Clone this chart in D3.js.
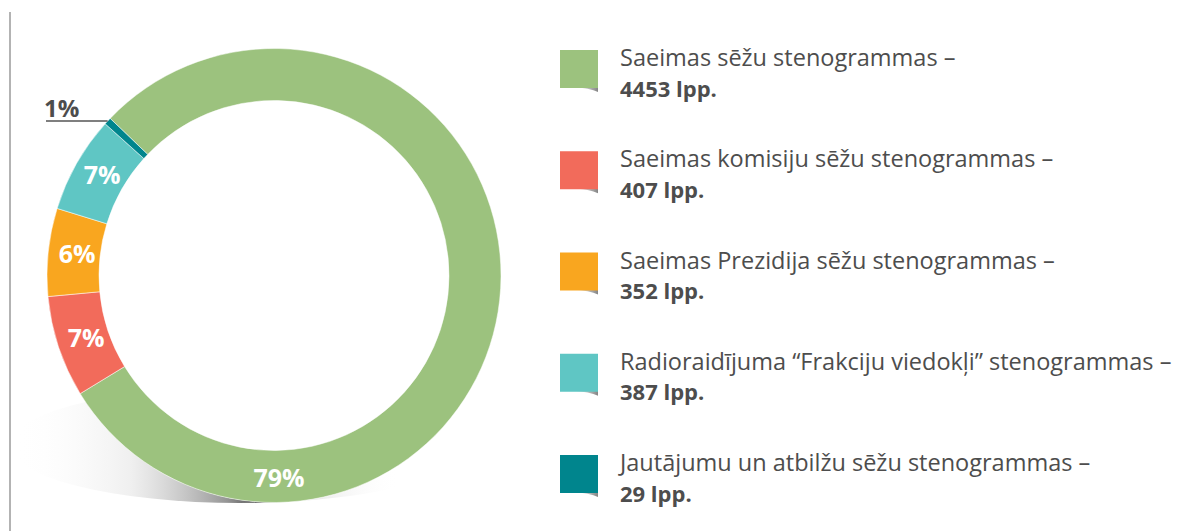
<!DOCTYPE html>
<html>
<head>
<meta charset="utf-8">
<script src="https://cdn.jsdelivr.net/npm/d3@7"></script>
<style>
  body { margin: 0; background: #fff; }
  svg { display: block; font-family: "Open Sans", sans-serif; }
</style>
</head>
<body>
<script>
// data
var categories = [
	"Saeimas sēžu stenogrammas –",
	"Saeimas komisiju sēžu stenogrammas –",
	"Saeimas Prezidija sēžu stenogrammas –",
	"Radioraidījuma “Frakciju viedokļi” stenogrammas –",
	"Jautājumu un atbilžu sēžu stenogrammas –"
];
var pages = [4453, 407, 352, 387, 29];
var pageLabels = ["4453 lpp.", "407 lpp.", "352 lpp.", "387 lpp.", "29 lpp."];
var colors = ["#9cc27e", "#f26b5b", "#f9a61f", "#5fc6c4", "#00858d"];

var w = 1203, h = 531;
var cx = 274, cy = 275.5;
var outerR = 227, innerR = 175;

var svg = d3.select("body").append("svg")
	.attr("width", w)
	.attr("height", h);

var defs = svg.append("defs");

// shadow under the ring
var sg = defs.append("linearGradient")
	.attr("id", "shadowGrad")
	.attr("gradientUnits", "userSpaceOnUse")
	.attr("x1", 15).attr("x2", 400).attr("y1", 0).attr("y2", 0);
[[0, "#ffffff", 0], [0.3, "#dddddd", 0.45], [0.55, "#8a8a8a", 0.9],
 [0.62, "#5a5a5a", 1], [0.7, "#c8c8c8", 0.7], [1, "#ffffff", 0]].forEach(function(s){
	sg.append("stop").attr("offset", s[0]).attr("stop-color", s[1]).attr("stop-opacity", s[2]);
});

// little curl shadow for legend squares
var cg = defs.append("linearGradient")
	.attr("id", "curlGrad")
	.attr("x1", 0).attr("x2", 1).attr("y1", 0).attr("y2", 0);
cg.append("stop").attr("offset", 0).attr("stop-color", "#999").attr("stop-opacity", 0);
cg.append("stop").attr("offset", 1).attr("stop-color", "#777").attr("stop-opacity", 0.9);

// left rule
svg.append("line")
	.attr("x1", 10).attr("x2", 10)
	.attr("y1", 12).attr("y2", h)
	.style("stroke", "#b3b3b3")
	.style("stroke-width", 2);

svg.append("ellipse")
	.attr("cx", 240).attr("cy", 445)
	.attr("rx", 230).attr("ry", 58)
	.style("fill", "url(#shadowGrad)");

var g = svg.append("g")
	.attr("transform", "translate(" + cx + "," + cy + ")");

g.append("circle")
	.attr("r", outerR)
	.style("fill", "#fff");

var total = d3.sum(pages);
var startA = -46.2 * Math.PI / 180;

var pie = d3.pie()
	.sort(null)
	.startAngle(startA)
	.endAngle(startA + 2 * Math.PI);

var arc = d3.arc()
	.innerRadius(innerR)
	.outerRadius(outerR);

var arcs = pie(pages);

g.selectAll(".slice")
	.data(arcs)
	.enter()
	.append("path")
	.attr("class", "slice")
	.attr("d", arc)
	.style("fill", function(d, i){ return colors[i]; })
	.style("stroke", "#fff")
	.style("stroke-width", 0.5);

function pct(v){ return Math.round(v / total * 100) + "%"; }

// labels inside the ring (not for the thin slice)
g.selectAll(".pct")
	.data(arcs.filter(function(d){ return d.value / total > 0.02; }))
	.enter()
	.append("text")
	.attr("class", "pct")
	.attr("transform", function(d, i){
		var c;
		if (i === 0) {
			// biggest slice labelled at the bottom
			c = arc.centroid({startAngle: Math.PI, endAngle: Math.PI});
			return "translate(" + (c[0] + 5) + "," + (c[1] + 1) + ")";
		}
		c = arc.centroid(d);
		return "translate(" + (c[0] + 3) + "," + (c[1] - 1) + ")";
	})
	.attr("dy", "0.36em")
	.attr("text-anchor", "middle")
	.style("fill", "#fff")
	.style("font-weight", 700)
	.style("font-size", "25px")
	.text(function(d){ return pct(d.value); });

// callout for the thin slice
var thin = arcs[4];
var mid = (thin.startAngle + thin.endAngle) / 2;
var px = outerR * Math.sin(mid), py = -outerR * Math.cos(mid);
g.append("line")
	.attr("x1", px).attr("y1", py)
	.attr("x2", 46 - cx).attr("y2", py)
	.style("stroke", "#555")
	.style("stroke-width", 1.5);
g.append("text")
	.attr("x", 44 - cx)
	.attr("y", py - 4)
	.style("fill", "#4d4d4d")
	.style("font-weight", 700)
	.style("font-size", "24px")
	.text(pct(thin.value));

// legend
var yLeg = d3.scalePoint()
	.domain(d3.range(categories.length))
	.range([50, 455]);

var leg = svg.selectAll(".leg")
	.data(categories)
	.enter()
	.append("g")
	.attr("class", "leg")
	.attr("transform", function(d, i){ return "translate(560," + yLeg(i) + ")"; });

leg.append("path")
	.attr("d", "M12,37 Q30,38 38,42 L38,37 Z")
	.style("fill", "url(#curlGrad)");

leg.append("rect")
	.attr("width", 38)
	.attr("height", 38)
	.style("fill", function(d, i){ return colors[i]; });

// two lines in one text: name, then bold page count
var legText = leg.append("text")
	.attr("y", 16)
	.style("fill", "#4d4d4d");

legText.append("tspan")
	.attr("x", 60)
	.style("font-size", "23.5px")
	.text(function(d){ return d; });

legText.append("tspan")
	.attr("x", 60)
	.attr("dy", 30.5)
	.style("font-weight", 700)
	.style("font-size", "22px")
	.text(function(d, i){ return pageLabels[i]; });
</script>
</body>
</html>
